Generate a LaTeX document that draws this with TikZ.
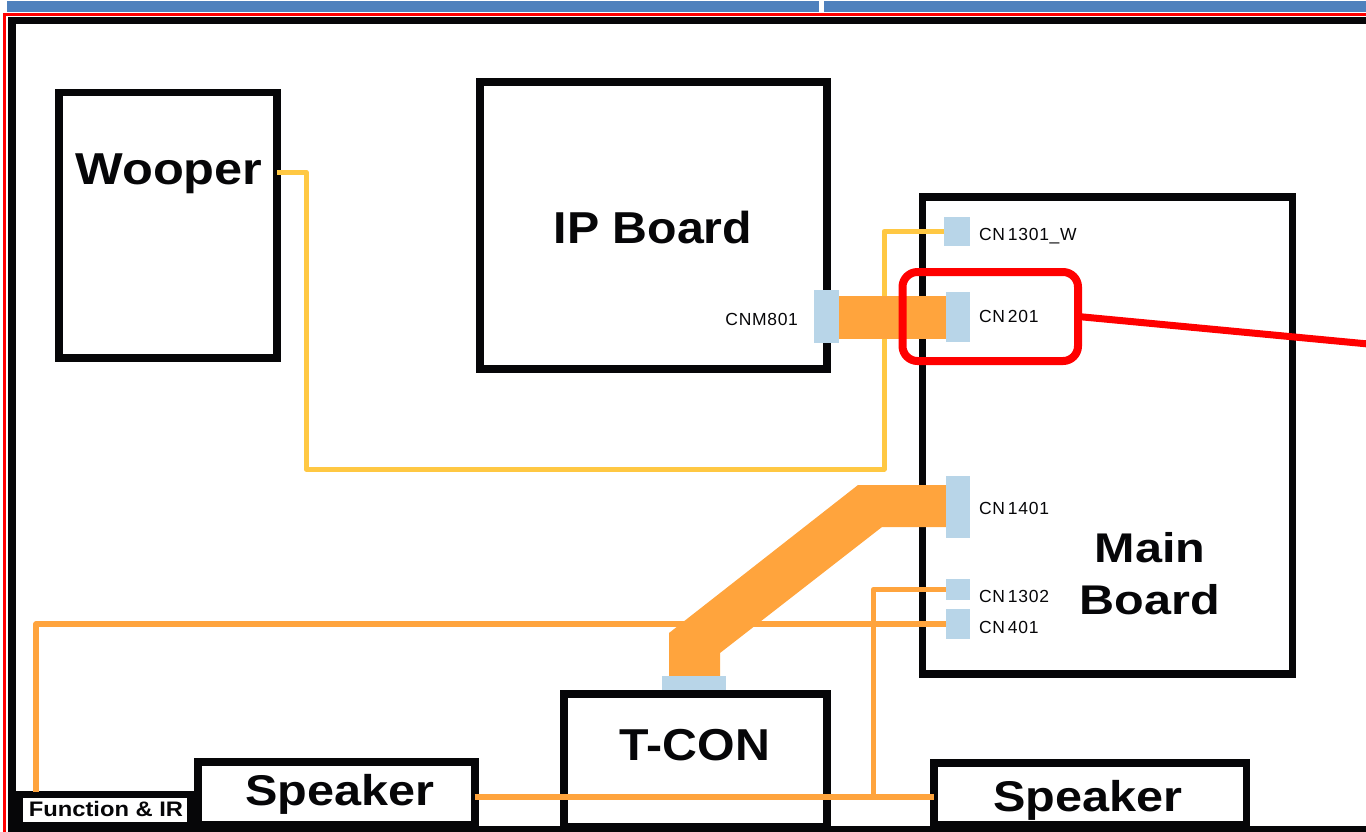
\documentclass[tikz,border=0pt]{standalone}
\usepackage{fontspec}
\setmainfont{Liberation Sans}
\newfontfamily\diagsans{Liberation Sans}
\newfontfamily\stretchA[FakeStretch=1.08]{Liberation Sans}
\newfontfamily\stretchB[FakeStretch=1.13]{Liberation Sans}
\newfontfamily\stretchC[FakeStretch=1.17]{Liberation Sans}
\usetikzlibrary{calc}
\definecolor{bandblue}{HTML}{4F81BD}
\definecolor{frameblack}{HTML}{060608}
\definecolor{connblue}{HTML}{B8D5E8}
\definecolor{wireorange}{HTML}{FFA43D}
\definecolor{wireyellow}{HTML}{FFC843}
\definecolor{markred}{HTML}{FF0000}
\begin{document}
\begin{tikzpicture}[x=1pt,y=-1pt,
  board/.style={draw=frameblack, line width=7.5pt, inner sep=0pt, outer sep=0pt, rectangle},
  conn/.style={fill=connblue, inner sep=0pt, outer sep=0pt, rectangle},
  bigtxt/.style={inner sep=0pt, outer sep=0pt, anchor=base, text=frameblack},
  cntxt/.style={inner sep=0pt, outer sep=0pt, text=frameblack,
     font=\diagsans\addfontfeature{LetterSpace=4}\fontsize{17.5}{17.5}\selectfont},
  wire/.style={draw=wireorange, line width=5.5pt, line join=round},
  ywire/.style={draw=wireyellow, line width=5pt, line join=round},
  redmark/.style={draw=markred, line width=8pt, rounded corners=15pt, inner sep=0pt, outer sep=0pt, rectangle},
  redline/.style={draw=markred, line width=7pt}
]
\useasboundingbox (0,0) rectangle (1366,831);
\clip (0,0) rectangle (1366,831);

% top band
\fill[bandblue] (7,1) rectangle (819,12);
\fill[bandblue] (824,1) rectangle (1366,12);
% outer red and black frame
\draw[markred, line width=3pt] (1420,14.7) -- (4,14.7) -- (4,850);
\draw[frameblack, line width=7.5pt] (1420,20.5) -- (12,20.5) -- (12,829.5) -- (1420,829.5);

% boards
\node[board, minimum width=218pt, minimum height=265.5pt] (wooper) at (168,225.25) {};
\node[board, line width=8pt, minimum width=347pt, minimum height=287pt] (ipboard) at (653,225) {};
\node[board, minimum width=370pt, minimum height=477pt] (mainboard) at (1107.5,435.5) {};
\node[board, line width=8pt, minimum width=263pt, minimum height=133pt] (tcon) at (695,760.5) {};
\node[board, line width=8pt, minimum width=277pt, minimum height=63.5pt] (spkL) at (336,793.25) {};
\node[board, minimum width=312.5pt, minimum height=62pt] (spkR) at (1090.25,794) {};
\node[board, line width=7pt, minimum width=170.5pt, minimum height=31pt] (funcir) at (104.75,809.5) {};

% connectors
\node[conn, minimum width=25pt, minimum height=53pt] (cnm801) at (826.5,316.5) {};
\node[conn, minimum width=26pt, minimum height=29pt] (cn1301w) at (957,231.5) {};
\node[conn, minimum width=24pt, minimum height=50pt] (cn201) at (958,317) {};
\node[conn, minimum width=24pt, minimum height=62pt] (cn1401) at (958,507) {};
\node[conn, minimum width=24pt, minimum height=21pt] (cn1302) at (958,589.5) {};
\node[conn, minimum width=24pt, minimum height=30pt] (cn401) at (958,624) {};
\node[conn, minimum width=64pt, minimum height=14pt] (tconcn) at (694,683) {};

% wire helper coordinates
\coordinate (wy) at (277,172);
\coordinate (ycornerA) at (306,469);
\coordinate (ycornerB) at (884,469);
\coordinate (spkjoin) at (873.5,797);
\coordinate (fir) at (36,792);

% yellow wire
\draw[ywire] (wy) -| (ycornerA) -- (ycornerB) |- (cn1301w.west);
% thin orange wires
\draw[wire] (cn1302.west) -| (spkjoin);
\draw[wire] (cn401.west) -| (fir);
\draw[wire] (spkL.east |- spkjoin) -- (spkR.west |- spkjoin);
% wide buses
\fill[wireorange] (cnm801.east |- 0,296) rectangle (cn201.west |- 0,339);
\fill[wireorange] ($(tconcn.north)+(-25,0)$) -- ($(tconcn.north)+(-25,-43)$)
   -- ($(cn1401.west)+(-88,-22)$) -- ($(cn1401.west)+(0,-22)$)
   -- ($(cn1401.west)+(0,20)$) -- ($(cn1401.west)+(-64,20)$)
   -- ($(tconcn.north)+(26,-23)$) -- ($(tconcn.north)+(26,0)$) -- cycle;
% redraw connectors on top of buses
\fill[connblue] (cnm801.south west) rectangle (cnm801.north east);
\fill[connblue] (cn201.south west) rectangle (cn201.north east);
\fill[connblue] (cn1401.south west) rectangle (cn1401.north east);
\fill[connblue] (tconcn.south west) rectangle (tconcn.north east);

% big labels
\node[bigtxt, font=\stretchB\bfseries\fontsize{44.7}{44.7}\selectfont] (wooperlbl) at (169,184) {Wooper};
\node[bigtxt, font=\stretchA\bfseries\fontsize{44.7}{44.7}\selectfont] (iplbl) at (653,243.3) {IP Board};
\node[bigtxt, font=\stretchA\bfseries\fontsize{44.7}{44.7}\selectfont] (tconlbl) at (695,760) {T-CON};
\node[bigtxt, font=\stretchB\bfseries\fontsize{43}{43}\selectfont] (spkLlbl) at (340,805) {Speaker};
\node[bigtxt, font=\stretchB\bfseries\fontsize{43}{43}\selectfont] (spkRlbl) at (1088,811.7) {Speaker};
\node[inner sep=0pt, outer sep=0pt, align=center, text=frameblack, font=\stretchC\bfseries\fontsize{41.5}{52}\selectfont] (mainlbl) at (1150,574) {Main\\Board};
\node[bigtxt, font=\stretchB\bfseries\fontsize{21}{21}\selectfont] (firlbl) at (106,816.7) {Function \& IR};

% connector labels
\node[cntxt, anchor=base east] (cnm801lbl) at (798,325) {CNM801};
\node[cntxt, anchor=base west] (cn1301wlbl) at (979,240) {CN\kern3pt 1301\_W};
\node[cntxt, anchor=base west] (cn201lbl) at (979,322.3) {CN\kern3pt 201};
\node[cntxt, anchor=base west] (cn1401lbl) at (979,514.3) {CN\kern3pt 1401};
\node[cntxt, anchor=base west] (cn1302lbl) at (979,602.7) {CN\kern3pt 1302};
\node[cntxt, anchor=base west] (cn401lbl) at (979,633.3) {CN\kern3pt 401};

% red highlight
\node[redmark, minimum width=175.5pt, minimum height=89pt] (redbox) at (990.25,316.5) {};
\coordinate (redend) at (1400,347);
\draw[redline] (redbox.east) -- (redend);
\end{tikzpicture}
\end{document}
